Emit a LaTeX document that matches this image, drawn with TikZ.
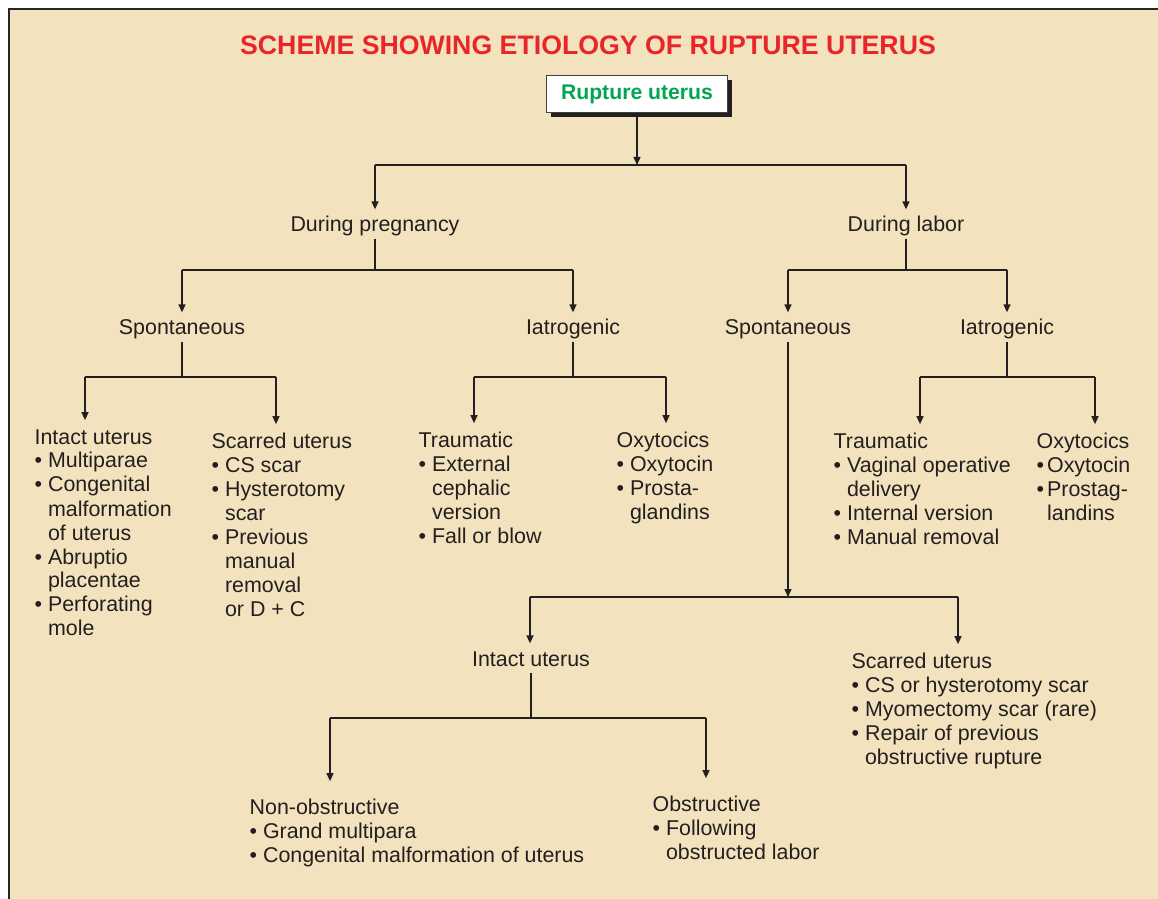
\documentclass[tikz,border=0pt]{standalone}
\usepackage{fontspec}
\setmainfont{Liberation Sans}
\usetikzlibrary{arrows.meta,shadows}
\definecolor{paper}{HTML}{F2E2BD}
\definecolor{ink}{HTML}{231F20}
\definecolor{titlered}{HTML}{E8262A}
\definecolor{rootgreen}{HTML}{00A651}
\newcommand{\vlist}[1]{\begin{tabular}[t]{@{}l@{}}#1\end{tabular}}
\newcommand{\bitem}{•\ }
\newcommand{\bcont}{\hphantom{•\ }}
\newcommand{\titem}{•\hspace{1.5pt}}
\newcommand{\tcont}{\hphantom{•\hspace{1.5pt}}}
\begin{document}
\begin{tikzpicture}[x=0.5pt, y=-0.5pt, color=ink, line width=0.65pt,
  >={Triangle[length=4pt,width=3.5pt]},
  txt/.style={font=\fontsize{10.7}{12}\selectfont},
  head/.style={txt, anchor=base, inner sep=0pt, text height=11pt, text depth=3pt},
  list/.style={txt, anchor=base west, inner xsep=0pt, inner ysep=3.2pt}]
\useasboundingbox (0,0) rectangle (1158,899);
\fill[paper] (9,9) rectangle (1158,899);
\draw[line width=1.4pt, black!85] (9,899) -- (9,9) -- (1158,9);

\node[font=\fontsize{13.35}{16}\selectfont\bfseries, text=titlered] (title) at (588,45) {SCHEME SHOWING ETIOLOGY OF RUPTURE UTERUS};
\node[draw=black!75, line width=0.5pt, fill=white, minimum width=90.5pt, minimum height=18.5pt,
  drop shadow={shadow xshift=2pt, shadow yshift=-2pt, fill=ink, opacity=1},
  font=\fontsize{10.6}{12}\selectfont\bfseries, text=rootgreen] (root) at (637,94.5) {Rupture uterus};

\node[head] (preg) at (375,232) {During pregnancy};
\node[head] (labor) at (906,232) {During labor};
\node[head] (pspon) at (182,335) {Spontaneous};
\node[head] (piat) at (573,335) {Iatrogenic};
\node[head] (lspon) at (788,335) {Spontaneous};
\node[head] (liat) at (1007,335) {Iatrogenic};

\node[list] (pintact) at (34,444) {\vlist{Intact uterus\\ \bitem Multiparae\\ \bitem Congenital\\ \bcont malformation\\ \bcont of uterus\\ \bitem Abruptio\\ \bcont placentae\\ \bitem Perforating\\ \bcont mole}};
\node[list] (pscar) at (211,448) {\vlist{Scarred uterus\\ \bitem CS scar\\ \bitem Hysterotomy\\ \bcont scar\\ \bitem Previous\\ \bcont manual\\ \bcont removal\\ \bcont or D + C}};
\node[list] (ptrauma) at (418,447) {\vlist{Traumatic\\ \bitem External\\ \bcont cephalic\\ \bcont version\\ \bitem Fall or blow}};
\node[list] (poxy) at (616,447) {\vlist{Oxytocics\\ \bitem Oxytocin\\ \bitem Prosta-\\ \bcont glandins}};
\node[list] (ltrauma) at (833,448) {\vlist{Traumatic\\ \bitem Vaginal operative\\ \bcont delivery\\ \bitem Internal version\\ \bitem Manual removal}};
\node[list] (loxy) at (1036,448) {\vlist{Oxytocics\\ \titem Oxytocin\\ \titem Prostag-\\ \tcont landins}};

\node[head] (lintact) at (531,666) {Intact uterus};
\node[list] (lscar) at (851,668) {\vlist{Scarred uterus\\ \bitem CS or hysterotomy scar\\ \bitem Myomectomy scar (rare)\\ \bitem Repair of previous\\ \bcont obstructive rupture}};
\node[list, inner ysep=7.7pt] (nonobs) at (249,814) {\vlist{Non-obstructive\\ \bitem Grand multipara\\ \bitem Congenital malformation of uterus}};
\node[list, inner ysep=7.7pt] (obs) at (652,811) {\vlist{Obstructive\\ \bitem Following\\ \bcont obstructed labor}};

\coordinate (t0) at (637,165);
\draw[->] (root) -- (t0);
\draw (preg |- t0) -- (labor |- t0);
\draw[->] (preg |- t0) -- (preg);
\draw[->] (labor |- t0) -- (labor);

\coordinate (pbar) at (0,270);
\draw (preg) -- (preg |- pbar);
\draw (pspon |- pbar) -- (piat |- pbar);
\draw[->] (pspon |- pbar) -- (pspon);
\draw[->] (piat |- pbar) -- (piat);

\coordinate (lbar) at (0,270);
\draw (labor) -- (labor |- lbar);
\draw (lspon |- lbar) -- (liat |- lbar);
\draw[->] (lspon |- lbar) -- (lspon);
\draw[->] (liat |- lbar) -- (liat);

\coordinate (psa) at (85,377);
\coordinate (psb) at (276,377);
\draw (pspon) -- (pspon |- psa);
\draw (psa) -- (psb);
\draw[->] (psa) -- (psa |- pintact.north);
\draw[->] (psb) -- (psb |- pscar.north);

\coordinate (pia) at (474,377);
\coordinate (pib) at (666,377);
\draw (piat) -- (piat |- pia);
\draw (pia) -- (pib);
\draw[->] (pia) -- (pia |- ptrauma.north);
\draw[->] (pib) -- (pib |- poxy.north);

\coordinate (lia) at (920,377);
\coordinate (lib) at (1095,377);
\draw (liat) -- (liat |- lia);
\draw (lia) -- (lib);
\draw[->] (lia) -- (lia |- ltrauma.north);
\draw[->] (lib) -- (lib |- loxy.north);

\coordinate (lsa) at (530,597);
\coordinate (lsb) at (958,597);
\draw[->] (lspon) -- (lspon |- lsa);
\draw (lsa) -- (lsb);
\draw[->] (lsa) -- (lsa |- lintact.north);
\draw[->] (lsb) -- (lsb |- lscar.north);

\coordinate (ica) at (330,718);
\coordinate (icb) at (706,718);
\draw (lintact) -- (lintact |- ica);
\draw (ica) -- (icb);
\draw[->] (ica) -- (ica |- nonobs.north);
\draw[->] (icb) -- (icb |- obs.north);
\end{tikzpicture}
\end{document}
